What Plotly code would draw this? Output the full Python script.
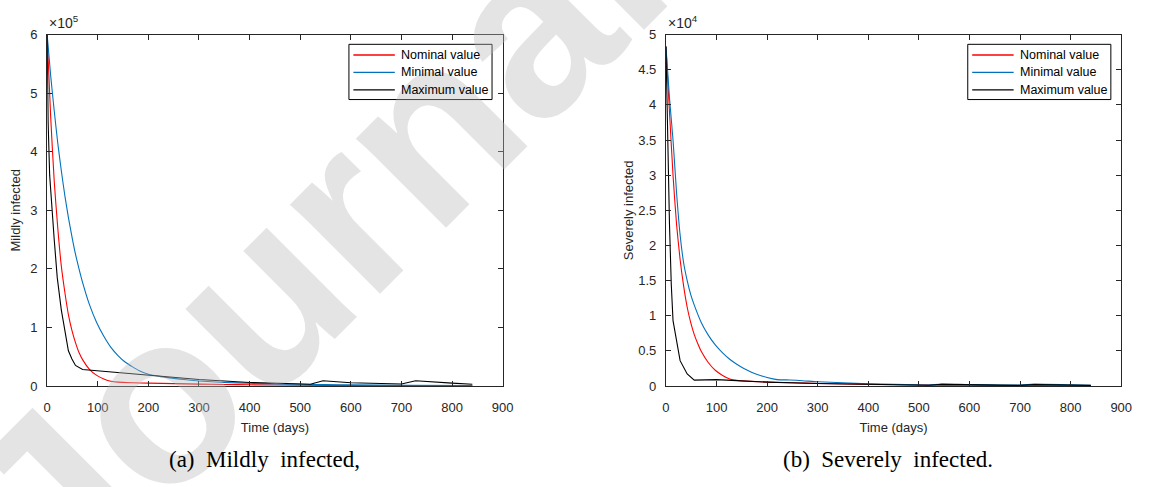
import plotly.graph_objects as go

# ---- Mildly infected (units of 1e5) ----
t_mild_nom = [0, 7, 14, 21, 28, 35, 42, 49, 56, 63, 70, 84, 98, 112, 126, 140, 168,
              200, 250, 300, 350, 400, 500, 600, 700, 840]
mild_nom = [6.0, 4.6, 3.5, 2.7, 2.05, 1.6, 1.22, 0.95, 0.74, 0.57, 0.45, 0.28, 0.18,
            0.12, 0.08, 0.065, 0.055, 0.048, 0.04, 0.032, 0.025, 0.02, 0.012, 0.008,
            0.005, 0.003]

t_mild_min = [0, 7, 14, 21, 28, 35, 42, 49, 56, 63, 70, 84, 98, 112, 126, 140, 154,
              168, 182, 200, 225, 250, 275, 300, 350, 400, 450, 500, 550, 600, 700, 840]
mild_min = [6.0, 5.3, 4.7, 4.15, 3.68, 3.25, 2.88, 2.55, 2.25, 2.0, 1.77, 1.38, 1.08,
            0.85, 0.66, 0.52, 0.41, 0.33, 0.26, 0.2, 0.16, 0.13, 0.105, 0.085, 0.06,
            0.045, 0.035, 0.028, 0.022, 0.018, 0.012, 0.008]

t_mild_max = [0, 2, 5, 10, 14, 20, 28, 35, 42, 49, 56, 70, 200, 300, 400, 450, 520,
              545, 600, 700, 728, 800, 840]
mild_max = [6.0, 4.5, 3.6, 2.9, 2.5, 1.85, 1.3, 0.95, 0.6, 0.46, 0.35, 0.28, 0.19,
            0.11, 0.06, 0.045, 0.03, 0.09, 0.055, 0.033, 0.088, 0.048, 0.03]

# ---- Severely infected (units of 1e4) ----
t_sev_nom = [0, 7, 14, 21, 28, 35, 42, 49, 56, 63, 70, 84, 98, 112, 126, 140, 168,
             200, 250, 300, 400, 500, 600, 700, 840]
sev_nom = [4.83, 3.9, 3.0, 2.3, 1.8, 1.42, 1.12, 0.9, 0.73, 0.6, 0.49, 0.33, 0.22,
           0.15, 0.1, 0.08, 0.065, 0.055, 0.045, 0.035, 0.022, 0.014, 0.009, 0.006,
           0.004]

t_sev_min = [0, 7, 14, 21, 28, 35, 42, 49, 56, 70, 84, 98, 112, 126, 140, 154, 168,
             182, 200, 220, 245, 270, 300, 350, 400, 450, 500, 520, 545, 600, 700,
             728, 800, 840]
sev_min = [4.83, 4.1, 3.5, 2.75, 2.15, 1.75, 1.5, 1.3, 1.15, 0.9, 0.72, 0.58, 0.47,
           0.38, 0.31, 0.25, 0.2, 0.16, 0.12, 0.09, 0.085, 0.075, 0.06, 0.045, 0.03,
           0.022, 0.016, 0.012, 0.028, 0.02, 0.012, 0.026, 0.015, 0.01]

t_sev_max = [0, 3.5, 7, 10.5, 14, 28, 42, 56, 80, 100, 130, 200, 300, 400, 500, 520,
             545, 600, 700, 728, 800, 840]
sev_max = [4.83, 3.4, 2.3, 1.45, 0.93, 0.36, 0.17, 0.083, 0.09, 0.09, 0.08, 0.055,
           0.035, 0.02, 0.012, 0.01, 0.022, 0.015, 0.008, 0.02, 0.012, 0.008]

series_names = ["Nominal value", "Minimal value", "Maximum value"]
series_colors = ["#ff0000", "#0072bd", "#000000"]
series_shapes = ["spline", "spline", "linear"]

x_ticks = [0, 100, 200, 300, 400, 500, 600, 700, 800, 900]
y_ticks_mild = [0, 1, 2, 3, 4, 5, 6]
y_ticks_sev = [0, 0.5, 1, 1.5, 2, 2.5, 3, 3.5, 4, 4.5, 5]

W, H = 1149, 487
FONT = "Liberation Sans, Arial, sans-serif"
AX_COL = "#262626"


def px_x(p):
    return p / W


def px_y(p):
    return 1 - p / H


fig = go.Figure()

# diagonal watermark, drawn first as a faint layer
fig.add_annotation(x=px_x(726), y=px_y(-176), xref="paper", yref="paper",
                   xanchor="center", yanchor="middle", showarrow=False,
                   text="<b>Journal Pre-proof</b>", textangle=-45,
                   font=dict(family=FONT, size=240, color="rgba(185,185,185,0.38)"))

panels = [
    (("x", "y"), [(t_mild_nom, mild_nom), (t_mild_min, mild_min), (t_mild_max, mild_max)]),
    (("x2", "y2"), [(t_sev_nom, sev_nom), (t_sev_min, sev_min), (t_sev_max, sev_max)]),
]
for (xa, ya), data in panels:
    for (tx, vy), name, col, shp in zip(data, series_names, series_colors, series_shapes):
        line = dict(color=col, width=1.1, shape=shp)
        if shp == "spline":
            line["smoothing"] = 0.6
        fig.add_trace(go.Scatter(x=tx, y=vy, mode="lines", name=name, showlegend=False,
                                 xaxis=xa, yaxis=ya, line=line))

axis_common = dict(
    showline=True, linecolor=AX_COL, linewidth=1, mirror="ticks",
    ticks="inside", ticklen=5, tickwidth=1, tickcolor=AX_COL,
    showgrid=False, zeroline=False,
    tickfont=dict(family=FONT, size=13, color=AX_COL),
    title_font=dict(family=FONT, size=13, color=AX_COL),
)
x_common = dict(range=[0, 900], tickvals=x_ticks, ticklabelstandoff=9,
                title=dict(text="Time (days)", standoff=9), **axis_common)

ydom = [px_y(391), px_y(28.5)]

fig.update_layout(
    width=W, height=H, margin=dict(l=0, r=0, t=0, b=0),
    paper_bgcolor="white", plot_bgcolor="white",
    xaxis=dict(domain=[px_x(43.7), px_x(505.3)], anchor="y", **x_common),
    yaxis=dict(domain=ydom, range=[0, 6], tickvals=y_ticks_mild, anchor="x",
               ticklabelstandoff=6, title=dict(text="Mildly infected", standoff=6),
               **axis_common),
    xaxis2=dict(domain=[px_x(670.7), px_x(1132)], anchor="y2", **x_common),
    yaxis2=dict(domain=ydom, range=[0, 5], tickvals=y_ticks_sev, anchor="x2",
                ticklabelstandoff=6, title=dict(text="Severely infected", standoff=1),
                **axis_common),
)

# legend boxes in the upper-right corner of each panel
legend_boxes = [(349.5, 494.5), (976.5, 1121.5)]
legend_top, legend_bottom = 38.5, 95.5
row_y = [49.5, 67.5, 85.5]
for bx0, bx1 in legend_boxes:
    fig.add_shape(type="rect", xref="paper", yref="paper",
                  x0=px_x(bx0), x1=px_x(bx1), y0=px_y(legend_bottom), y1=px_y(legend_top),
                  line=dict(color="#000000", width=1), fillcolor="white", layer="above")
for bx0, bx1 in legend_boxes:
    for ry, name, col in zip(row_y, series_names, series_colors):
        fig.add_shape(type="line", xref="paper", yref="paper",
                      x0=px_x(bx0 + 4.5), x1=px_x(bx0 + 46.5), y0=px_y(ry), y1=px_y(ry),
                      line=dict(color=col, width=1.3), layer="above")
        fig.add_annotation(x=px_x(bx0 + 50.5), y=px_y(ry), xref="paper", yref="paper",
                           xanchor="left", yanchor="middle", showarrow=False,
                           text=name, font=dict(family=FONT, size=12.5, color="#000000"))

# exponent labels above the y axes
for xp, txt in [(44, "×10<sup>5</sup>"), (671, "×10<sup>4</sup>")]:
    fig.add_annotation(x=px_x(xp), y=px_y(27), xref="paper", yref="paper",
                       xanchor="left", yanchor="bottom", showarrow=False,
                       text=txt, font=dict(family=FONT, size=14, color=AX_COL))

# sub-figure captions
for xc, txt in [(263.5, "(a)  Mildly  infected,"), (896, "(b)  Severely  infected.")]:
    fig.add_annotation(x=px_x(xc), y=px_y(467), xref="paper", yref="paper",
                       xanchor="center", yanchor="middle", showarrow=False,
                       text=txt, font=dict(family="Liberation Serif, Times New Roman, serif",
                                           size=23, color="#000000"))

fig.write_html("out.html")
